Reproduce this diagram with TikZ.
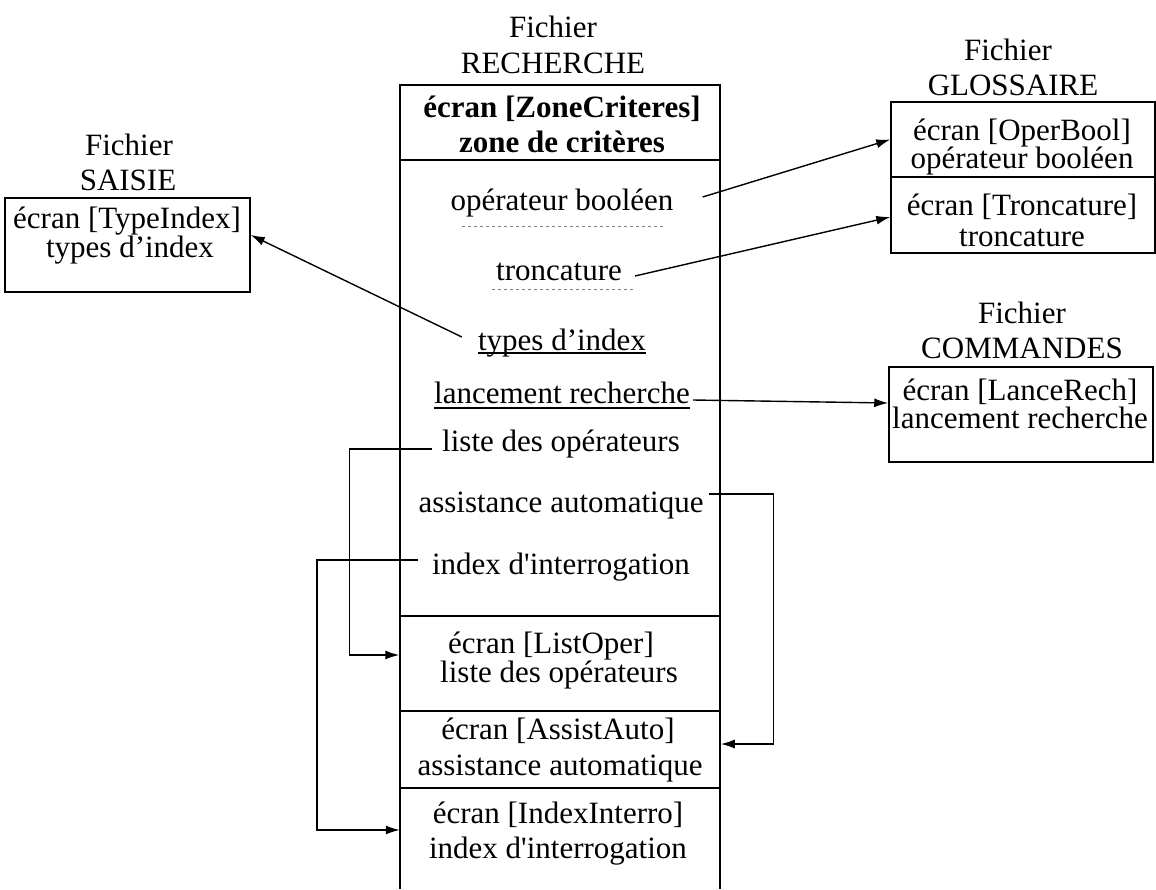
\documentclass[tikz,border=0pt]{standalone}
\usepackage{fontspec}
\newfontfamily\docfont{Liberation Serif}
\usetikzlibrary{arrows.meta}
\newcommand\diagsize{\fontsize{31}{35}\selectfont}
\begin{document}
\begin{tikzpicture}[x=1pt,y=-1pt,
  txt/.style={font=\docfont\diagsize, inner sep=0pt, anchor=base,
              text height=20pt, text depth=6pt},
  txtb/.style={txt, font=\docfont\bfseries\diagsize},
  sect/.style={draw, line width=1.5pt, inner sep=0pt},
  conn/.style={line width=1.4pt},
  arr/.style={conn, -{Latex[length=14pt,width=9pt]}},
  hint/.style={gray, line width=0.8pt, dash pattern=on 3pt off 3pt},
]
\useasboundingbox (0,0) rectangle (1156,889);

% ---- central file RECHERCHE ----
\node[txt] (rf1) at (553,37) {Fichier};
\node[txt] (rf2) at (553,73) {RECHERCHE};
\node[sect, minimum width=320pt, minimum height=75pt]  (zc)   at (560,122.5) {};
\node[sect, minimum width=320pt, minimum height=456pt] (body) at (560,388) {};
\node[sect, minimum width=320pt, minimum height=95pt]  (lo)   at (560,663.5) {};
\node[sect, minimum width=320pt, minimum height=77pt]  (aa)   at (560,749.5) {};
\node[inner sep=0pt, minimum width=320pt, minimum height=101pt] (ii) at (560,838.5) {};
\draw[line width=1.5pt] (ii.south west) -- (ii.north west) -- (ii.north east) -- (ii.south east);

\node[txtb] (t-zc1) at (562,117) {écran [ZoneCriteres]};
\node[txtb] (t-zc2) at (562,152) {zone de critères};

\node[txt] (t-ob)  at (562,210) {opérateur booléen};
\node[txt] (t-tr)  at (559,280) {troncature};
\node[txt] (t-ti)  at (562,350) {types d’index};
\node[txt] (t-lr)  at (562,403) {lancement recherche};
\node[txt] (t-lio) at (561,451) {liste des opérateurs};
\node[txt] (t-aa)  at (561,512) {assistance automatique};
\node[txt] (t-ii)  at (561,574) {index d'interrogation};

\node[txt] (t-lo1) at (551,653) {écran [ListOper]};
\node[txt] (t-lo2) at (559,682) {liste des opérateurs};
\node[txt] (t-aa1) at (558,739) {écran [AssistAuto]};
\node[txt] (t-aa2) at (560,775) {assistance automatique};
\node[txt] (t-ii1) at (558,823) {écran [IndexInterro]};
\node[txt] (t-ii2) at (558,858) {index d'interrogation};

% underlines of the items
\draw[hint] ([xshift=12pt,yshift=-16pt]t-ob.base west) -- ([xshift=-8pt,yshift=-16pt]t-ob.base east);
\draw[hint] ([xshift=-4pt,yshift=-9pt]t-tr.base west) -- ([xshift=11pt,yshift=-9pt]t-tr.base east);
\draw[line width=1.2pt] ([yshift=-3pt]t-ti.base west) -- ([yshift=-3pt]t-ti.base east);
\draw[line width=1.2pt] ([yshift=-5pt]t-lr.base west) -- ([yshift=-5pt]t-lr.base east);

% ---- file SAISIE ----
\node[txt] (sf1) at (129,155) {Fichier};
\node[txt] (sf2) at (128,190) {SAISIE};
\node[sect, minimum width=245pt, minimum height=94pt] (sa) at (127.5,245) {};
\node[txt] (t-sa1) at (127,228) {écran [TypeIndex]};
\node[txt] (t-sa2) at (130,257) {types d’index};

% ---- file GLOSSAIRE ----
\node[txt] (gf1) at (1008,60) {Fichier};
\node[txt] (gf2) at (1013,95) {GLOSSAIRE};
\node[sect, minimum width=264pt, minimum height=75pt] (gl1) at (1023,139.5) {};
\node[sect, minimum width=264pt, minimum height=76pt] (gl2) at (1023,215) {};
\node[txt] (t-gl1) at (1022,140) {écran [OperBool]};
\node[txt] (t-gl2) at (1022,168) {opérateur booléen};
\node[txt] (t-gl3) at (1022,215) {écran [Troncature]};
\node[txt] (t-gl4) at (1022,246) {troncature};

% ---- file COMMANDES ----
\node[txt] (cf1) at (1022,323) {Fichier};
\node[txt] (cf2) at (1022,358) {COMMANDES};
\node[sect, minimum width=264pt, minimum height=95pt] (cm) at (1021,414.5) {};
\node[txt] (t-cm1) at (1020,400) {écran [LanceRech]};
\node[txt] (t-cm2) at (1020,428) {lancement recherche};

% ---- links ----
\draw[arr] ([xshift=29pt,yshift=6pt]t-ob.east) -- (gl1.west);
\draw[arr] ([xshift=13pt,yshift=-3pt]t-tr.east) -- ([yshift=-2pt]gl2.west);
\draw[arr] ([xshift=-16pt,yshift=6pt]t-ti.west) -- ([yshift=10pt]sa.east);
\draw[arr] ([xshift=3pt,yshift=-4pt]t-lr.east) -- ([yshift=11.5pt]cm.west);

\draw[arr] ([xshift=-10pt,yshift=-5pt]t-lio.west) -| ([xshift=-50pt,yshift=8.5pt]lo.west) -- ([yshift=8.5pt]lo.west);
\draw[arr] ([xshift=5pt,yshift=11pt]t-aa.east) -| ([xshift=53pt,yshift=5.5pt]aa.east) -- ([yshift=5.5pt]aa.east);
\draw[arr] ([xshift=-14pt,yshift=7pt]t-ii.west) -| ([xshift=-83pt,yshift=8.5pt]ii.west) -- ([yshift=8.5pt]ii.west);
\end{tikzpicture}
\end{document}
